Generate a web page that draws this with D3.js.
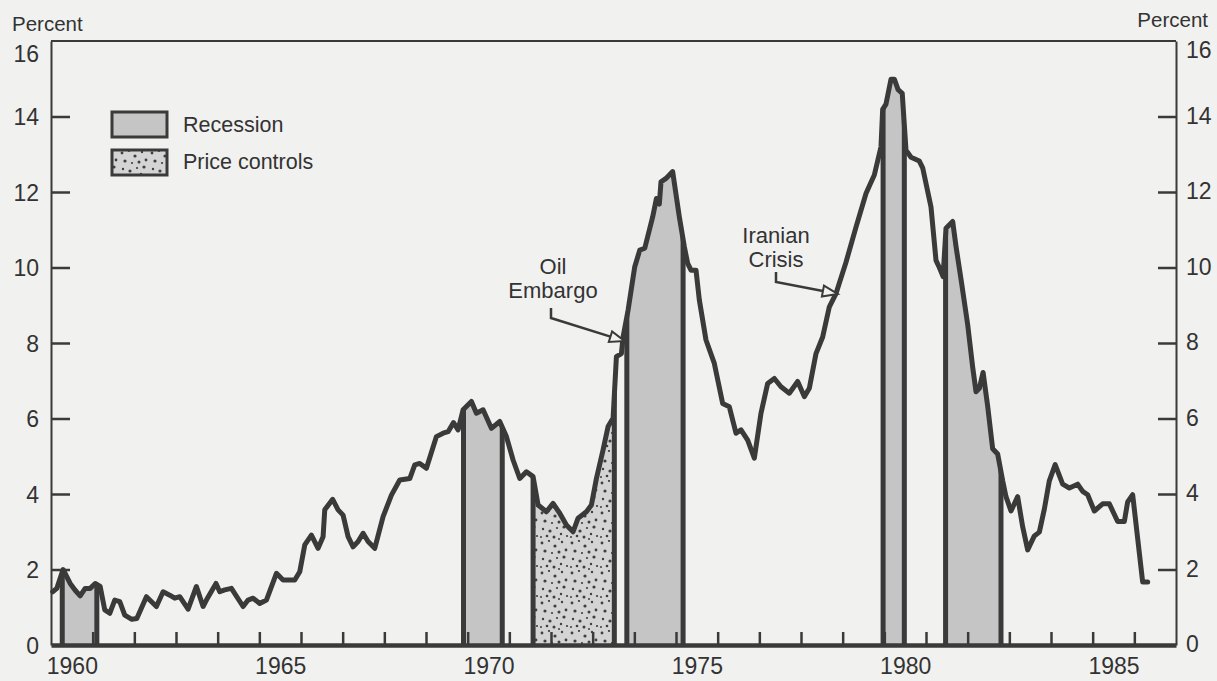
<!DOCTYPE html>
<html>
<head>
<meta charset="utf-8">
<script src="https://cdn.jsdelivr.net/npm/d3@7"></script>
<style>
  body { margin: 0; background: #f1f1f0; }
  svg { display: block; font-family: "Liberation Sans", Arial, sans-serif; }
</style>
</head>
<body>
<div id="chart"></div>
<script>
// inflation rate, percent (decimal years)
const years = [
  1960.04,1960.14,1960.29,1960.46,1960.58,1960.70,1960.82,1960.94,
  1961.06,1961.18,1961.29,1961.41,1961.53,1961.65,1961.77,1961.94,
  1962.06,1962.29,1962.53,1962.69,1962.85,1962.97,
  1963.09,1963.29,1963.49,1963.65,1963.73,1963.96,
  1964.05,1964.17,1964.33,1964.61,1964.73,1964.85,
  1965.01,1965.17,1965.41,1965.57,1965.85,1965.97,
  1966.09,1966.25,1966.41,1966.53,1966.57,1966.76,1966.89,
  1967.01,1967.13,1967.25,1967.37,1967.49,1967.61,1967.77,1967.97,
  1968.17,1968.37,1968.49,1968.61,1968.73,1968.85,
  1969.01,1969.25,1969.41,1969.53,1969.66,1969.77,1969.89,
  1970.09,1970.21,1970.37,1970.57,1970.77,1970.93,
  1971.09,1971.25,1971.41,1971.57,1971.69,1971.89,
  1972.05,1972.21,1972.37,1972.53,1972.65,1972.85,1972.97,
  1973.09,1973.25,1973.37,1973.49,1973.57,1973.69,1973.73,1973.85,
  1974.01,1974.13,1974.25,1974.44,1974.53,1974.60,1974.64,1974.76,1974.92,
  1975.08,1975.20,1975.28,1975.36,1975.48,1975.56,1975.72,1975.92,
  1976.12,1976.28,1976.44,1976.56,1976.72,1976.88,
  1977.04,1977.20,1977.36,1977.52,1977.72,1977.92,
  1978.08,1978.20,1978.36,1978.52,1978.68,1978.84,
  1979.08,1979.32,1979.56,1979.64,1979.76,1979.92,1979.96,
  1980.04,1980.16,1980.24,1980.33,1980.43,1980.52,1980.64,1980.84,1980.92,
  1981.12,1981.24,1981.32,1981.41,1981.48,1981.64,1981.72,1981.85,
  1982.00,1982.12,1982.20,1982.28,1982.37,1982.48,1982.60,1982.72,1982.84,1982.92,
  1983.04,1983.20,1983.32,1983.44,1983.60,1983.72,1983.84,1983.96,
  1984.10,1984.28,1984.44,1984.64,1984.76,1984.88,
  1985.04,1985.24,1985.40,1985.60,1985.76,1985.84,1985.96,
  1986.20,1986.32
];
const inflation = [
  1.41,1.50,2.00,1.63,1.45,1.30,1.50,1.50,
  1.63,1.55,0.93,0.84,1.19,1.15,0.79,0.68,
  0.70,1.28,1.02,1.41,1.32,1.24,
  1.28,0.95,1.55,1.02,1.19,1.63,
  1.41,1.46,1.50,1.02,1.19,1.24,
  1.10,1.19,1.90,1.72,1.72,1.94,
  2.65,2.91,2.56,2.87,3.58,3.86,3.58,
  3.44,2.87,2.60,2.74,2.96,2.74,2.56,3.40,
  3.97,4.37,4.39,4.41,4.77,4.81,
  4.68,5.52,5.61,5.65,5.89,5.70,6.23,
  6.45,6.14,6.23,5.74,5.92,5.52,
  4.90,4.41,4.59,4.46,3.71,3.53,
  3.75,3.49,3.18,3.00,3.36,3.53,3.71,
  4.41,5.17,5.79,6.01,7.64,7.72,8.16,8.87,
  10.02,10.46,10.51,11.34,11.83,11.68,12.27,12.36,12.54,
  11.34,10.55,10.11,9.93,9.93,9.14,8.08,7.46,
  6.40,6.31,5.61,5.70,5.43,4.95,
  6.14,6.93,7.06,6.84,6.67,6.98,
  6.58,6.80,7.72,8.16,8.96,9.31,
  10.14,11.07,11.96,12.16,12.45,13.20,14.19,
  14.33,14.99,14.99,14.71,14.61,13.11,12.92,12.82,12.64,
  11.60,10.19,10.00,9.76,11.04,11.22,10.56,9.62,
  8.49,7.36,6.71,6.80,7.22,6.33,5.20,5.06,4.35,3.93,
  3.55,3.93,3.13,2.52,2.89,2.99,3.60,4.35,
  4.78,4.26,4.16,4.26,4.07,3.98,
  3.55,3.74,3.74,3.27,3.27,3.79,3.98,
  1.67,1.67
];

// shaded periods
const recessionStart = [1960.27, 1969.90, 1973.82, 1979.97, 1981.47];
const recessionEnd   = [1961.10, 1970.83, 1975.17, 1980.48, 1982.80];
const controlsStart = [1971.57];
const controlsEnd   = [1973.52];

const yTicks = [0, 2, 4, 6, 8, 10, 12, 14, 16];
const xLabels = [1960, 1965, 1970, 1975, 1980, 1985];
const legendLabels = ["Recession", "Price controls"];

const width = 1217, height = 681;
const ink = "#3a3a3a";
const textColor = "#333";
const bg = "#f1f1f0";

const x = d3.scaleLinear().domain([1960, 1987]).range([51, 1176]);
const y = d3.scaleLinear().domain([0, 16]).range([645, 41]);

const svg = d3.select("#chart").append("svg")
  .attr("width", width)
  .attr("height", height);

svg.append("rect").attr("width", width).attr("height", height).attr("fill", bg);

const defs = svg.append("defs");

// stipple texture for price controls (fixed dot layout)
const dotSpots = [[2,3,1.4],[9,1,1.1],[15,6,1.6],[22,2,1.2],[26,10,1.4],[5,11,1.6],
  [12,13,1.1],[19,12,1.5],[3,19,1.2],[10,21,1.6],[17,18,1.1],[24,17,1.6],
  [7,26,1.3],[14,27,1.5],[21,24,1.2],[27,26,1.1],[1,27,1.0],[19,29,1.0]];
const stipple = defs.append("pattern")
  .attr("id", "stipple")
  .attr("patternUnits", "userSpaceOnUse")
  .attr("width", 30)
  .attr("height", 30);
stipple.append("rect").attr("width", 30).attr("height", 30).attr("fill", "#d4d4d4");
stipple.selectAll("circle").data(dotSpots).enter().append("circle")
  .attr("cx", d => d[0]).attr("cy", d => d[1]).attr("r", d => d[2])
  .attr("fill", "#3f3f3f");

const series = years.map((t, i) => ({t: t, v: inflation[i]}));

const area = d3.area()
  .x(d => x(d.t))
  .y0(y(0))
  .y1(d => y(d.v));

const line = d3.line()
  .x(d => x(d.t))
  .y(d => y(d.v));

defs.append("clipPath").attr("id", "under")
  .append("path").attr("d", area(series));

// shaded areas under the curve
const shade = svg.append("g").attr("clip-path", "url(#under)");

shade.selectAll("rect.recession").data(recessionStart).enter().append("rect")
  .attr("class", "recession")
  .attr("x", d => x(d))
  .attr("width", (d, i) => x(recessionEnd[i]) - x(d))
  .attr("y", y(16))
  .attr("height", y(0) - y(16))
  .attr("fill", "#c5c5c5");

shade.selectAll("rect.controls").data(controlsStart).enter().append("rect")
  .attr("class", "controls")
  .attr("x", d => x(d))
  .attr("width", (d, i) => x(controlsEnd[i]) - x(d))
  .attr("y", y(16))
  .attr("height", y(0) - y(16))
  .attr("fill", "url(#stipple)");

// vertical edges of the shaded periods
const edges = recessionStart.concat(recessionEnd, controlsStart, controlsEnd);
shade.selectAll("line.edge").data(edges).enter().append("line")
  .attr("class", "edge")
  .attr("x1", d => x(d)).attr("x2", d => x(d))
  .attr("y1", y(0)).attr("y2", y(16))
  .attr("stroke", ink)
  .attr("stroke-width", 5);

// the series
svg.append("path")
  .datum(series)
  .attr("d", line)
  .attr("fill", "none")
  .attr("stroke", ink)
  .attr("stroke-width", 5)
  .attr("stroke-linejoin", "round")
  .attr("stroke-linecap", "round");

// frame
svg.append("line")
  .attr("x1", x(1960)).attr("x2", x(1987))
  .attr("y1", y(16)).attr("y2", y(16))
  .attr("stroke", ink).attr("stroke-width", 2);

// left axis
const leftAxis = svg.append("g")
  .attr("transform", "translate(" + x(1960) + ",0)")
  .call(d3.axisLeft(y).tickValues(yTicks).tickSize(-19).tickPadding(12).tickSizeOuter(0));

// right axis
const rightAxis = svg.append("g")
  .attr("transform", "translate(" + x(1987) + ",0)")
  .call(d3.axisRight(y).tickValues(yTicks).tickSize(-18).tickPadding(10).tickSizeOuter(0));

[leftAxis, rightAxis].forEach(g => {
  g.select(".domain").attr("stroke", ink).attr("stroke-width", 2);
  g.selectAll(".tick line").attr("stroke", ink).attr("stroke-width", 2.5)
    .attr("display", d => (d === 0 || d === 16) ? "none" : null);
  g.selectAll(".tick text")
    .attr("fill", textColor)
    .style("font-size", "23px")
    .style("font-family", "'Liberation Sans', Arial, sans-serif")
    .attr("dy", d => d === 16 ? "0.9em" : "0.36em");
});
rightAxis.selectAll(".tick text").attr("dy", d => d === 16 ? "0.7em" : "0.3em");

// bottom axis: yearly ticks pointing up
const bottomTicks = svg.append("g")
  .attr("transform", "translate(0," + y(0) + ")")
  .call(d3.axisBottom(x).tickValues(d3.range(1961, 1987)).tickSize(-13).tickFormat("").tickSizeOuter(0));
bottomTicks.select(".domain").attr("stroke", ink).attr("stroke-width", 4.5);
bottomTicks.selectAll(".tick line").attr("stroke", ink).attr("stroke-width", 2.5);

// year labels centred in the year
const labelScale = d3.scaleLinear().domain([1960, 1987]).range([x(1960.5), x(1987.5)]);
const bottomLabels = svg.append("g")
  .attr("transform", "translate(0," + y(0) + ")")
  .call(d3.axisBottom(labelScale).tickValues(xLabels).tickSize(0).tickPadding(13).tickFormat(d3.format("d")));
bottomLabels.select(".domain").remove();
bottomLabels.selectAll(".tick text")
  .attr("fill", textColor)
  .style("font-size", "23px")
  .style("font-family", "'Liberation Sans', Arial, sans-serif");

// axis titles
svg.append("text").attr("x", 12).attr("y", 31)
  .attr("fill", textColor).style("font-size", "20.5px").text("Percent");
svg.append("text").attr("x", 1208).attr("y", 27).attr("text-anchor", "end")
  .attr("fill", textColor).style("font-size", "20.5px").text("Percent");

// legend
const legend = svg.append("g");
const legendFills = ["#c5c5c5", "url(#stipple)"];
legendLabels.forEach((label, i) => {
  legend.append("rect")
    .attr("x", 112).attr("y", 112 + i * 38)
    .attr("width", 55).attr("height", 25)
    .attr("fill", legendFills[i])
    .attr("stroke", ink).attr("stroke-width", 3);
  legend.append("text")
    .attr("x", 183).attr("y", 132 + i * 37)
    .attr("fill", textColor).style("font-size", "21.5px")
    .text(label);
});

// annotations with hollow arrowheads
function annotate(lines, cx, baseline, corner, tip) {
  const g = svg.append("g");
  lines.forEach((s, i) => {
    g.append("text").attr("x", cx).attr("y", baseline + i * 24)
      .attr("text-anchor", "middle")
      .attr("fill", textColor).style("font-size", "22px")
      .text(s);
  });
  const dx = tip[0] - corner[0], dy = tip[1] - corner[1];
  const len = Math.sqrt(dx * dx + dy * dy);
  const ux = dx / len, uy = dy / len;
  const bx = tip[0] - ux * 15, by = tip[1] - uy * 15;
  g.append("path")
    .attr("d", "M" + corner[0] + "," + (corner[1] - 10) + "V" + corner[1] + "L" + bx + "," + by)
    .attr("fill", "none").attr("stroke", ink).attr("stroke-width", 2.5);
  g.append("path")
    .attr("d", "M" + tip[0] + "," + tip[1] +
      "L" + (bx - uy * 5.5) + "," + (by + ux * 5.5) +
      "L" + (bx + uy * 5.5) + "," + (by - ux * 5.5) + "Z")
    .attr("fill", bg).attr("stroke", ink).attr("stroke-width", 2);
}

annotate(["Oil", "Embargo"], 553, 274, [551, 318], [x(1973.77), y(8.05)]);
annotate(["Iranian", "Crisis"], 776, 243, [776, 282], [x(1978.88), y(9.3)]);
</script>
</body>
</html>
